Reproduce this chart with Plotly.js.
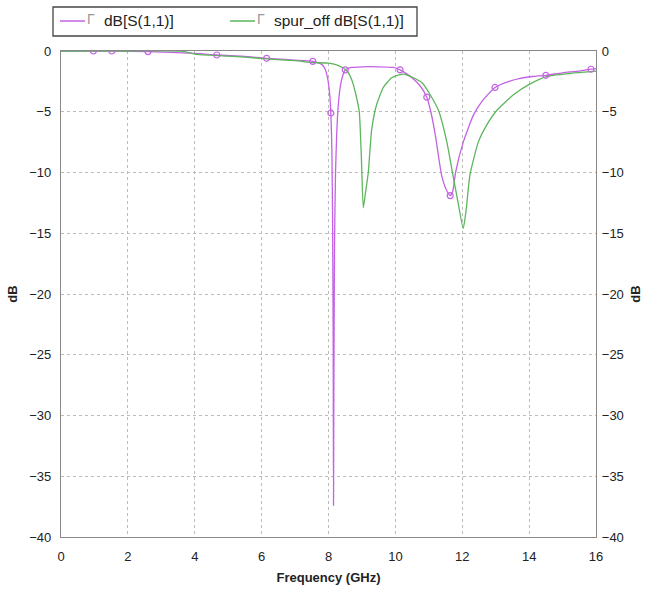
<!DOCTYPE html>
<html>
<head>
<meta charset="utf-8">
<script src="https://cdn.plot.ly/plotly-3.0.1.min.js"></script>
<style>
html,body{margin:0;padding:0;background:#fff;}
#chart{width:650px;height:592px;}
</style>
</head>
<body>
<div id="chart"></div>
<script>
// Series 1: dB[S(1,1)]
const s11Name = 'dB[S(1,1)]';
const s11Freq = [0, 0.97, 1.52, 2.6, 4, 4.66, 5.5, 6.15, 7, 7.53, 7.8, 7.9, 7.97, 8.03, 8.07, 8.1, 8.12, 8.14, 8.15, 8.16, 8.18, 8.21, 8.25, 8.3, 8.36, 8.43, 8.5, 8.7, 9, 9.5, 9.94, 10.14, 10.35, 10.54, 10.75, 10.94, 11.06, 11.2, 11.38, 11.52, 11.64, 11.72, 11.8, 12.03, 12.33, 12.6, 12.98, 13.4, 13.73, 14.1, 14.5, 15, 15.5, 15.85, 16];
const s11Db   = [0, 0, 0, -0.05, -0.2, -0.33, -0.45, -0.6, -0.75, -0.85, -1.1, -1.5, -2.2, -3.4, -5.1, -8, -13, -24, -37.4, -28, -16, -10, -6.5, -4.2, -2.8, -2, -1.55, -1.35, -1.3, -1.3, -1.35, -1.55, -1.9, -2.3, -2.9, -3.8, -5, -7, -10.2, -11.4, -11.9, -11.5, -10, -7.5, -5.3, -4.1, -3.0, -2.5, -2.25, -2.1, -2.0, -1.8, -1.65, -1.5, -1.45];
const s11MarkFreq = [0.97, 1.52, 2.6, 4.66, 6.15, 7.53, 8.07, 8.5, 10.14, 10.94, 11.64, 12.98, 14.5, 15.85];
const s11MarkDb   = [0, 0, -0.05, -0.33, -0.6, -0.85, -5.1, -1.55, -1.55, -3.8, -11.9, -3.0, -2.0, -1.5];

// Series 2: spur_off dB[S(1,1)]
const spurName = 'spur_off dB[S(1,1)]';
const spurFreq = [0, 2, 3.6, 4.0, 4.8, 5.5, 6.15, 7, 7.54, 8.0, 8.3, 8.54, 8.7, 8.82, 8.92, 8.98, 9.04, 9.1, 9.19, 9.29, 9.44, 9.64, 9.89, 10.24, 10.54, 10.79, 11.04, 11.29, 11.54, 11.72, 11.87, 12.03, 12.12, 12.23, 12.48, 12.73, 13.03, 13.53, 14.03, 14.52, 15.2, 15.82, 16];
const spurDb   = [0, 0, 0, -0.25, -0.4, -0.5, -0.65, -0.8, -0.95, -1.0, -1.2, -1.6, -2.4, -3.6, -5.0, -8.5, -12.9, -11.8, -10, -6.5, -4.4, -3.0, -2.2, -1.9, -2.2, -2.6, -3.6, -4.9, -7.5, -10.2, -12.4, -14.6, -13, -10.2, -7.5, -6.1, -4.9, -3.6, -2.7, -2.1, -1.85, -1.7, -1.65];

const xTicks = [0, 2, 4, 6, 8, 10, 12, 14, 16];
const yTicks = [0, -5, -10, -15, -20, -25, -30, -35, -40];

const purple = '#c462e4';
const green = '#5db65d';
const font = 'Liberation Sans, Arial, sans-serif';

// plot-area geometry (pixels) for placing the hand-made legend
const W = 650, H = 592, ML = 61, MR = 54, MT = 51, MB = 55;
const PW = W - ML - MR, PH = H - MT - MB;
const px = v => (v - ML) / PW;
const py = v => (H - MB - v) / PH;

const traces = [
  {x: s11Freq, y: s11Db, mode: 'lines', type: 'scatter', name: s11Name,
   line: {color: purple, width: 1.3, shape: 'spline', smoothing: 0.5}},
  {x: spurFreq, y: spurDb, mode: 'lines', type: 'scatter', name: spurName,
   line: {color: green, width: 1.3, shape: 'spline', smoothing: 0.5}},
  {x: s11MarkFreq, y: s11MarkDb, mode: 'markers', type: 'scatter', name: s11Name,
   marker: {symbol: 'circle-open', size: 6, color: purple, line: {width: 1.2, color: purple}}},
  {x: [], y: [], yaxis: 'y2', type: 'scatter', mode: 'lines'}
];

const axCommon = {
  showline: true, linecolor: '#888', linewidth: 1.2,
  showgrid: true, gridcolor: '#bbb', griddash: 'dot', gridwidth: 1,
  zeroline: false, ticks: '',
  tickfont: {family: font, size: 13, color: '#222'}
};

const legendItems = [
  {name: s11Name, color: purple, x0: 60},
  {name: spurName, color: green, x0: 230}
];
const shapes = [
  {type: 'rect', xref: 'paper', yref: 'paper', x0: px(53), x1: px(417), y0: py(36), y1: py(7),
   line: {color: '#444', width: 1.3}, fillcolor: '#fff'}
];
const annotations = [];
legendItems.forEach(it => {
  shapes.push({type: 'line', xref: 'paper', yref: 'paper', x0: px(it.x0), x1: px(it.x0 + 25),
    y0: py(21), y1: py(21), line: {color: it.color, width: 1.5}});
  annotations.push({xref: 'paper', yref: 'paper', x: px(it.x0 + 25), y: py(19), xanchor: 'left',
    yanchor: 'middle', text: 'Γ', showarrow: false, font: {family: font, size: 14, color: '#999'}});
  annotations.push({xref: 'paper', yref: 'paper', x: px(it.x0 + 42), y: py(21), xanchor: 'left',
    yanchor: 'middle', text: it.name, showarrow: false, font: {family: font, size: 15.5, color: '#222'}});
});

const layout = {
  width: W, height: H,
  margin: {l: ML, r: MR, t: MT, b: MB},
  paper_bgcolor: '#fff', plot_bgcolor: '#fff',
  font: {family: font, color: '#222'},
  showlegend: false,
  shapes: shapes,
  annotations: annotations,
  xaxis: Object.assign({}, axCommon, {
    range: [0, 16], tickvals: xTicks, ticktext: xTicks.map(String), mirror: true,
    ticklabelstandoff: 7,
    title: {text: '<b>Frequency (GHz)</b>', font: {family: font, size: 13, color: '#222'}, standoff: 10}
  }),
  yaxis: Object.assign({}, axCommon, {
    range: [-40, 0], tickvals: yTicks, mirror: true, ticklabelstandoff: 6,
    title: {text: '<b>dB</b>', font: {family: font, size: 13, color: '#222'}, standoff: 8}
  }),
  yaxis2: Object.assign({}, axCommon, {
    range: [-40, 0], tickvals: yTicks, overlaying: 'y', side: 'right', showgrid: false,
    ticklabelstandoff: 2,
    title: {text: '<b>dB</b>', font: {family: font, size: 13, color: '#222'}, standoff: 8}
  })
};

Plotly.newPlot('chart', traces, layout, {displayModeBar: false, staticPlot: true});
</script>
</body>
</html>
